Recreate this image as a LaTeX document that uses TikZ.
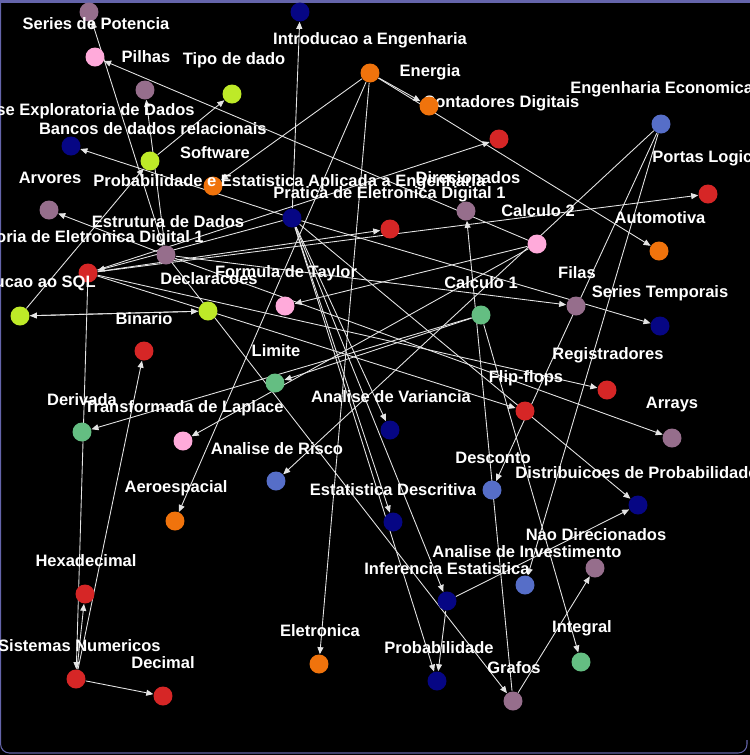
\documentclass[tikz,border=0pt]{standalone}
\usepackage{fontspec}
\setmainfont{Liberation Sans}
\usetikzlibrary{arrows.meta}

\definecolor{frameblue}{RGB}{100,100,170}
\definecolor{linegray}{RGB}{228,228,228}
\definecolor{cRed}{RGB}{214,38,38}
\definecolor{cOrange}{RGB}{240,115,12}
\definecolor{cNavy}{RGB}{6,6,132}
\definecolor{cLime}{RGB}{190,234,40}
\definecolor{cMauve}{RGB}{150,110,140}
\definecolor{cPink}{RGB}{255,170,218}
\definecolor{cGreen}{RGB}{100,190,130}
\definecolor{cBlue}{RGB}{86,110,200}

\pgfdeclarelayer{canvas}
\pgfdeclarelayer{bg}
\pgfsetlayers{canvas,bg,main}

\tikzset{
  dot/.style={circle,inner sep=0pt,minimum size=0.38cm},
  lbl/.style={text=white,inner sep=0pt,font=\bfseries\fontsize{9.4}{11}\selectfont},
  link/.style={draw=linegray,line width=0.5pt,-{Triangle[length=4pt,width=3.4pt]}},
}

\begin{document}
\begin{tikzpicture}[x=0.02cm,y=-0.02cm]
          \useasboundingbox (0,0) rectangle (750,755);
          \begin{pgfonlayer}{canvas}
          \fill[black] (0,0) rectangle (750,755);
          \fill[frameblue] (0,0) rectangle (750,3);
          \draw[frameblue,line width=0.6pt,rounded corners=5] (0.6,3) -- (0.6,753) -- (747,753) -- (747,740);
          \end{pgfonlayer}
          \clip (0,0) rectangle (750,755);

          % concepts
          \node[dot,fill=cMauve] (pilhas) at (89,12) {};
          \node[dot,fill=cNavy] (explor) at (300,12) {};
          \node[dot,fill=cPink] (potencia) at (95,57) {};
          \node[dot,fill=cMauve] (listas) at (145,90) {};
          \node[dot,fill=cLime] (tipo) at (232,94) {};
          \node[dot,fill=cOrange] (intro) at (370,73) {};
          \node[dot,fill=cNavy] (dadosn) at (71,146) {};
          \node[dot,fill=cLime] (bancos) at (150,161) {};
          \node[dot,fill=cRed] (contad) at (499,139) {};
          \node[dot,fill=cBlue] (engecon) at (661,124) {};
          \node[dot,fill=cOrange] (software) at (213,186) {};
          \node[dot,fill=cRed] (portas) at (708,194) {};
          \node[dot,fill=cMauve] (arvores) at (49,210) {};
          \node[dot,fill=cNavy] (probest) at (292,218) {};
          \node[dot,fill=cMauve] (direc) at (466,211) {};
          \node[dot,fill=cRed] (pratica) at (390,229) {};
          \node[dot,fill=cPink] (calc2) at (537,244) {};
          \node[dot,fill=cOrange] (automot) at (659,251) {};
          \node[dot,fill=cMauve] (estrut) at (166,255) {};
          \node[dot,fill=cRed] (teoria) at (88,273) {};
          \node[dot,fill=cLime] (sql) at (20,316) {};
          \node[dot,fill=cLime] (declar) at (208,311) {};
          \node[dot,fill=cPink] (taylor) at (285,306) {};
          \node[dot,fill=cGreen] (calc1) at (481,315) {};
          \node[dot,fill=cMauve] (filas) at (576,306) {};
          \node[dot,fill=cNavy] (seriest) at (660,326) {};
          \node[dot,fill=cRed] (binario) at (144,351) {};
          \node[dot,fill=cGreen] (limite) at (275,383) {};
          \node[dot,fill=cRed] (regist) at (607,390) {};
          \node[dot,fill=cRed] (flip) at (525,411) {};
          \node[dot,fill=cMauve] (arrays) at (672,438) {};
          \node[dot,fill=cGreen] (derivada) at (82,432) {};
          \node[dot,fill=cPink] (laplace) at (183,441) {};
          \node[dot,fill=cNavy] (anvar) at (390,430) {};
          \node[dot,fill=cBlue] (risco) at (276,481) {};
          \node[dot,fill=cBlue] (desconto) at (492,490) {};
          \node[dot,fill=cNavy] (distrib) at (638,505) {};
          \node[dot,fill=cOrange] (aero) at (175,521) {};
          \node[dot,fill=cNavy] (estdesc) at (393,522) {};
          \node[dot,fill=cMauve] (naodir) at (595,568) {};
          \node[dot,fill=cBlue] (invest) at (525,585) {};
          \node[dot,fill=cNavy] (infer) at (447,601) {};
          \node[dot,fill=cRed] (hexa) at (85,594) {};
          \node[dot,fill=cGreen] (integral) at (581,662) {};
          \node[dot,fill=cOrange] (eletron) at (319,664) {};
          \node[dot,fill=cNavy] (prob) at (437,681) {};
          \node[dot,fill=cRed] (sistnum) at (76,679) {};
          \node[dot,fill=cRed] (decimal) at (163,696) {};
          \node[dot,fill=cMauve] (grafos) at (513,701) {};

          % labels
          \node[lbl] (t-potencia) at (96,24) {Series de Potencia};
          \node[lbl] (t-intro) at (370,40) {Introducao a Engenharia};
          \node[lbl] (t-pilhas) at (146,57) {Pilhas};
          \node[lbl] (t-tipo) at (234,60) {Tipo de dado};
          \node[lbl] (t-energia) at (430,72) {Energia};
          \node[lbl,anchor=west] (t-contad) at (423,103) {Contadores Digitais};
          \node[lbl,anchor=east] (t-explor) at (195,111) {Analise Exploratoria de Dados};
          \node[lbl,anchor=east] (t-bancos) at (267,129) {Bancos de dados relacionais};
          \node[lbl] (t-software) at (215,153) {Software};
          \node[lbl,anchor=west] (t-engecon) at (570,89) {Engenharia Economica};
          \node[lbl,anchor=west] (t-portas) at (652,158) {Portas Logicas};
          \node[lbl,anchor=west] (t-probest) at (93,182) {Probabilidade e Estatistica Aplicada a Engenharia};
          \node[lbl] (t-direc) at (468,178) {Direcionados};
          \node[lbl,anchor=west] (t-pratica) at (273,194) {Pratica de Eletronica Digital 1};
          \node[lbl] (t-arvores) at (50,178) {Arvores};
          \node[lbl] (t-calc2) at (538,211) {Calculo 2};
          \node[lbl] (t-automot) at (660,218) {Automotiva};
          \node[lbl] (t-estrut) at (168,222) {Estrutura de Dados};
          \node[lbl,anchor=east] (t-teoria) at (204,238) {Teoria de Eletronica Digital 1};
          \node[lbl] (t-taylor) at (286,273) {Formula de Taylor};
          \node[lbl,anchor=east] (t-sql) at (96,283) {Introducao ao SQL};
          \node[lbl] (t-declar) at (209,279) {Declaracoes};
          \node[lbl] (t-calc1) at (481,283) {Calculo 1};
          \node[lbl] (t-filas) at (577,273) {Filas};
          \node[lbl] (t-seriest) at (660,293) {Series Temporais};
          \node[lbl] (t-binario) at (144,319) {Binario};
          \node[lbl] (t-limite) at (276,351) {Limite};
          \node[lbl] (t-regist) at (608,355) {Registradores};
          \node[lbl] (t-flip) at (526,378) {Flip-flops};
          \node[lbl] (t-arrays) at (672,405) {Arrays};
          \node[lbl] (t-derivada) at (82,400) {Derivada};
          \node[lbl] (t-laplace) at (184,408) {Transformada de Laplace};
          \node[lbl] (t-anvar) at (391,397) {Analise de Variancia};
          \node[lbl] (t-risco) at (277,449) {Analise de Risco};
          \node[lbl] (t-desconto) at (493,458) {Desconto};
          \node[lbl,anchor=west] (t-distrib) at (515,473) {Distribuicoes de Probabilidade};
          \node[lbl] (t-estdesc) at (393,490) {Estatistica Descritiva};
          \node[lbl] (t-aero) at (176,488) {Aeroespacial};
          \node[lbl] (t-naodir) at (596,535) {Nao Direcionados};
          \node[lbl] (t-invest) at (527,552) {Analise de Investimento};
          \node[lbl] (t-infer) at (447,569) {Inferencia Estatistica};
          \node[lbl] (t-hexa) at (86,561) {Hexadecimal};
          \node[lbl] (t-integral) at (582,628) {Integral};
          \node[lbl] (t-eletron) at (320,631) {Eletronica};
          \node[lbl] (t-prob) at (439,648) {Probabilidade};
          \node[lbl,anchor=east] (t-sistnum) at (161,646) {Sistemas Numericos};
          \node[lbl] (t-decimal) at (163,663) {Decimal};
          \node[lbl] (t-grafos) at (514,668) {Grafos};

          % this one sits over its label
          \node[dot,fill=cOrange] (energia) at (429,106) {};

          \begin{pgfonlayer}{bg}
          \draw[link] (intro) -- (energia);
          \draw[link] (intro) -- (software);
          \draw[link] (intro) -- (automot);
          \draw[link] (intro) -- (aero);
          \draw[link] (intro) -- (eletron);

          \draw[link] (probest) -- (explor);
          \draw[link] (probest) -- (dadosn);
          \draw[link] (probest) -- (seriest);
          \draw[link] (probest) -- (anvar);
          \draw[link] (probest) -- (estdesc);
          \draw[link] (probest) -- (infer);
          \draw[link] (probest) -- (prob);
          \draw[link] (probest) -- (distrib);
          \draw[link] (probest) -- (teoria);
          \draw[link] (infer) -- (distrib);
          \draw[link] (infer) -- (prob);

          \draw[link] (teoria) -- (contad);
          \draw[link] (teoria) -- (pratica);
          \draw[link] (teoria) -- (portas);
          \draw[link] (teoria) -- (regist);
          \draw[link] (teoria) -- (flip);
          \draw[link] (teoria) -- (sistnum);
          \draw[link] (sistnum) -- (hexa);
          \draw[link] (sistnum) -- (decimal);
          \draw[link] (sistnum) -- (binario);

          \draw[link] (estrut) -- (pilhas);
          \draw[link] (estrut) -- (listas);
          \draw[link] (estrut) -- (arvores);
          \draw[link] (estrut) -- (filas);
          \draw[link] (estrut) -- (arrays);
          \draw[link] (estrut) -- (grafos);
          \draw[link] (grafos) -- (direc);
          \draw[link] (grafos) -- (naodir);

          \draw[link] (calc2) -- (potencia);
          \draw[link] (calc2) -- (taylor);
          \draw[link] (calc2) -- (laplace);
          \draw[link] (calc1) -- (limite);
          \draw[link] (calc1) -- (derivada);
          \draw[link] (calc1) -- (integral);

          \draw[link] (engecon) -- (risco);
          \draw[link] (engecon) -- (desconto);
          \draw[link] (engecon) -- (invest);

          \draw[link] (sql) -- (bancos);
          \draw[link] (bancos) -- (tipo);
          \draw[link] (sql) -- (declar);
          \draw[link] (declar) -- (sql);
          \end{pgfonlayer}
        \end{tikzpicture}
\end{document}
